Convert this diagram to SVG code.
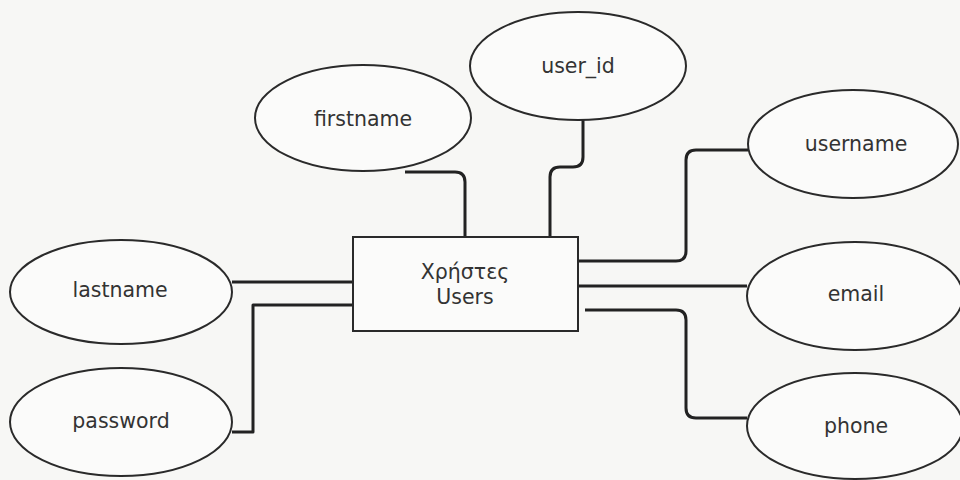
<svg xmlns="http://www.w3.org/2000/svg" width="960" height="480" viewBox="0 0 960 480">
<style>
.bg{fill:#f7f7f5}
.shape{fill:#fbfbfa;stroke:#2a2a2a;stroke-width:2}
.lbl{font-family:"DejaVu Sans",Verdana,sans-serif;font-size:20.5px;fill:#333;text-anchor:middle;dominant-baseline:central}
.conn{fill:none;stroke:#222;stroke-width:3;stroke-linejoin:round}
</style>
<rect class="bg" x="0" y="0" width="960" height="480"/>
<g id="connectors">
<path class="conn" d="M 405 172 H 455 Q 465 172 465 182 V 237"/>
<path class="conn" d="M 583 120 V 157 Q 583 167 573 167 H 560 Q 550 167 550 177 V 237"/>
<path class="conn" d="M 232 282 H 353"/>
<path class="conn" d="M 353 305 H 253 V 432 H 232" stroke-linejoin="miter"/>
<path class="conn" d="M 579 261 H 676 Q 686 261 686 251 V 160 Q 686 150 696 150 H 748"/>
<path class="conn" d="M 579 286 H 747"/>
<path class="conn" d="M 585 310 H 676 Q 686 310 686 320 V 408 Q 686 418 696 418 H 747"/>
</g>
<g id="users">
<rect class="shape" x="353" y="237" width="225" height="94"/>
<text class="lbl" x="465" y="272">Χρήστες</text>
<text class="lbl" x="465" y="297">Users</text>
</g>
<g id="firstname">
<ellipse class="shape" cx="363" cy="118" rx="108" ry="53"/>
<text class="lbl" x="363" y="119">firstname</text>
</g>
<g id="user_id">
<ellipse class="shape" cx="578" cy="66" rx="108" ry="54"/>
<text class="lbl" x="578" y="66">user_id</text>
</g>
<g id="username">
<ellipse class="shape" cx="853" cy="144" rx="105" ry="54"/>
<text class="lbl" x="856" y="144">username</text>
</g>
<g id="email">
<ellipse class="shape" cx="855" cy="296" rx="108" ry="54"/>
<text class="lbl" x="856" y="294">email</text>
</g>
<g id="phone">
<ellipse class="shape" cx="855" cy="426" rx="108" ry="53"/>
<text class="lbl" x="856" y="426">phone</text>
</g>
<g id="lastname">
<ellipse class="shape" cx="121" cy="292" rx="111" ry="52"/>
<text class="lbl" x="120" y="290">lastname</text>
</g>
<g id="password">
<ellipse class="shape" cx="121" cy="422" rx="111" ry="54"/>
<text class="lbl" x="121" y="421">password</text>
</g>
</svg>
